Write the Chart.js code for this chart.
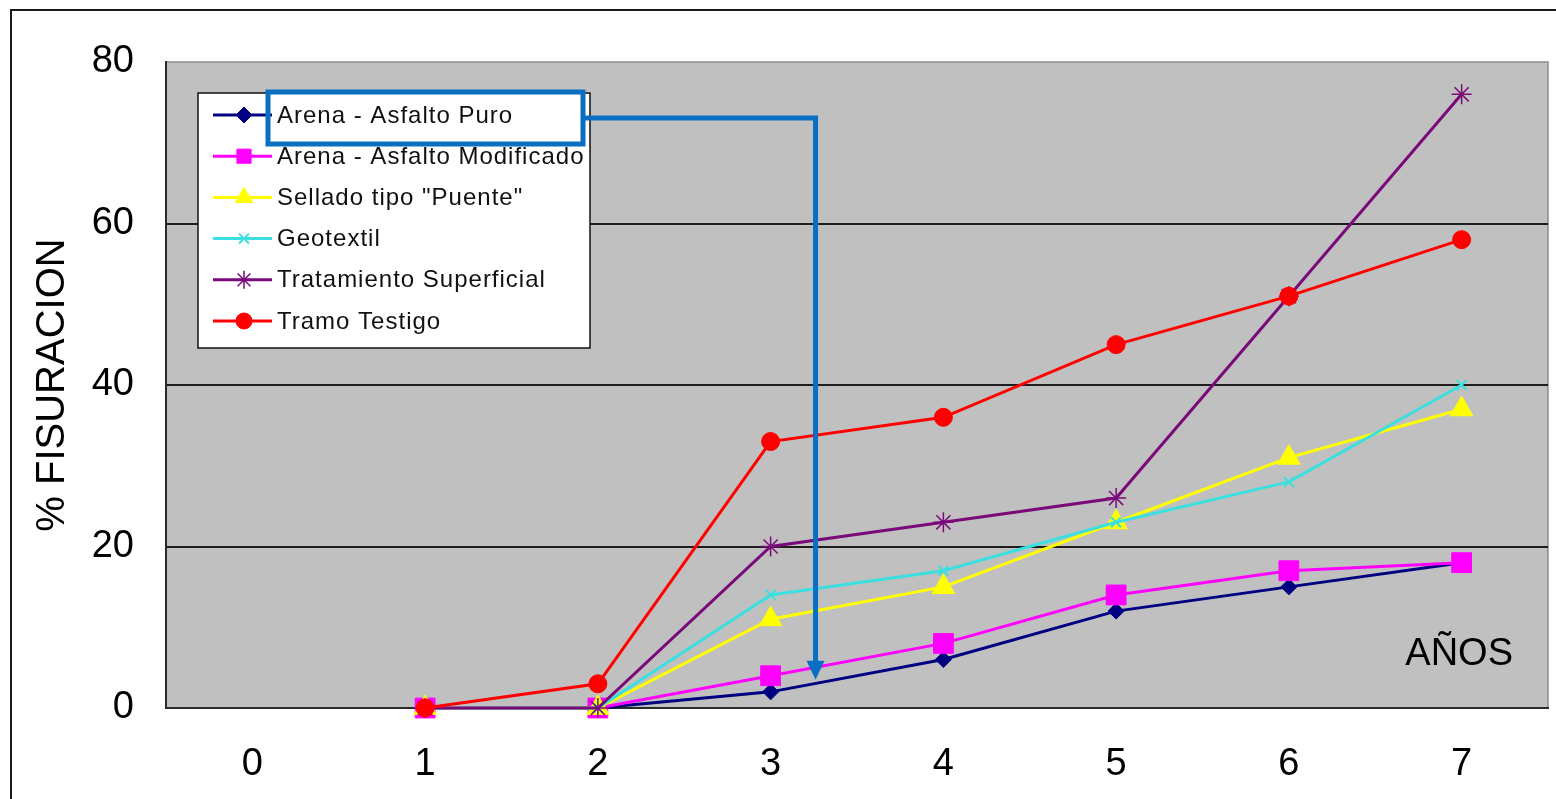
<!DOCTYPE html>
<html>
<head>
<meta charset="utf-8">
<script src="https://cdn.jsdelivr.net/npm/chart.js@4/dist/chart.umd.min.js"></script>
<style>
  html, body { margin: 0; padding: 0; background: #fff; }
  #wrap { width: 1556px; height: 799px; position: relative; }
</style>
</head>
<body>
<div id="wrap"><canvas id="c" width="1556" height="799"></canvas></div>
<script>
// Years after construction (category axis)
const years = ['0', '1', '2', '3', '4', '5', '6', '7'];

// % of cracked surface per treatment, by year
const arenaPuro              = [null, 0, 0, 2, 6, 12, 15, 18];
const arenaModificado        = [null, 0, 0, 4, 8, 14, 17, 18];
const selladoPuente          = [null, 0, 0, 11, 15, 23, 31, 37];
const geotextil              = [null, 0, 0, 14, 17, 23, 28, 40];
const tratamientoSuperficial = [null, 0, 0, 20, 23, 26, 51, 76];
const tramoTestigo           = [null, 0, 3, 33, 36, 45, 51, 58];

const seriesNames = [
  'Arena - Asfalto Puro',
  'Arena - Asfalto Modificado',
  'Sellado tipo "Puente"',
  'Geotextil',
  'Tratamiento Superficial',
  'Tramo Testigo'
];

const yTicks = [0, 20, 40, 60, 80];

const FONT = '"Liberation Sans", Arial, sans-serif';

const styles = [
  { color: '#000080', point: 'rectRot',  radius: 8,  bw: 1,   legendRadius: 8 },
  { color: '#FF00FF', point: 'rect',     radius: 14, bw: 1,   legendRadius: 10 },
  { color: '#FFFF00', point: 'triangle', radius: 13, bw: 1,   legendRadius: 10 },
  { color: '#3CDFDF', point: 'crossRot', radius: 7,  bw: 2,   legendRadius: 7 },
  { color: '#7A0A7A', point: 'star',     radius: 10, bw: 1.5, legendRadius: 9 },
  { color: '#FF0000', point: 'circle',   radius: 9,  bw: 1,   legendRadius: 8 }
];

const seriesValues = [arenaPuro, arenaModificado, selladoPuente, geotextil, tratamientoSuperficial, tramoTestigo];

const datasets = seriesValues.map((vals, i) => ({
  label: seriesNames[i],
  data: vals,
  borderColor: styles[i].color,
  backgroundColor: styles[i].color,
  pointBackgroundColor: styles[i].color,
  pointBorderColor: styles[i].color,
  pointStyle: styles[i].point,
  pointRadius: styles[i].radius,
  pointHoverRadius: styles[i].radius,
  pointBorderWidth: styles[i].bw,
  legendRadius: styles[i].legendRadius,
  borderWidth: 3,
  tension: 0,
  fill: false,
  spanGaps: false,
  clip: false,
  order: seriesValues.length - 1 - i
}));

// Background, outer frame and plot-area borders
const framePlugin = {
  id: 'frame',
  beforeDraw(chart) {
    const { ctx, chartArea: ca } = chart;
    ctx.save();
    ctx.fillStyle = '#fff';
    ctx.fillRect(0, 0, chart.width, chart.height);
    ctx.strokeStyle = '#1a1a1a';
    ctx.lineWidth = 2;
    ctx.strokeRect(11, 10, chart.width + 20, chart.height + 20);
    ctx.fillStyle = '#C0C0C0';
    ctx.fillRect(ca.left, ca.top, ca.right - ca.left, ca.bottom - ca.top);
    ctx.strokeStyle = '#8c8c8c';
    ctx.lineWidth = 1.5;
    ctx.beginPath();
    ctx.moveTo(ca.left, ca.top);
    ctx.lineTo(ca.right, ca.top);
    ctx.lineTo(ca.right, ca.bottom);
    ctx.stroke();
    ctx.restore();
  }
};

// Legend box inside the plot, plus the highlighted entry with its arrow
const legendPlugin = {
  id: 'insideLegend',
  afterDatasetsDraw(chart, args, opts) {
    const { ctx, chartArea: ca, scales } = chart;
    const bx = ca.left + 32, by = ca.top + 31, bw = 392, bh = 255;
    const rowGap = 41.2;
    ctx.save();
    ctx.fillStyle = '#fff';
    ctx.fillRect(bx, by, bw, bh);
    ctx.strokeStyle = '#111';
    ctx.lineWidth = 1.5;
    ctx.strokeRect(bx, by, bw, bh);

    chart.data.datasets.forEach((ds, i) => {
      const cy = by + 22 + i * rowGap;
      ctx.strokeStyle = ds.borderColor;
      ctx.lineWidth = 3;
      ctx.beginPath();
      ctx.moveTo(bx + 15, cy);
      ctx.lineTo(bx + 74, cy);
      ctx.stroke();
      ctx.fillStyle = ds.pointBackgroundColor;
      ctx.strokeStyle = ds.pointBorderColor;
      ctx.lineWidth = ds.pointBorderWidth;
      Chart.helpers.drawPoint(ctx, { pointStyle: ds.pointStyle, radius: ds.legendRadius, borderWidth: ds.pointBorderWidth, rotation: 0 }, bx + 46, cy);
      ctx.fillStyle = '#111';
      ctx.font = '24px ' + FONT;
      ctx.letterSpacing = '1px';
      ctx.textAlign = 'left';
      ctx.textBaseline = 'middle';
      ctx.fillText(ds.label, bx + 79, cy + 1);
      ctx.letterSpacing = '0px';
    });

    // Highlight box around the first entry, connector and arrow
    const hl = { left: bx + 70, top: by - 1, right: bx + 385, bottom: by + 51 };
    ctx.strokeStyle = opts.color;
    ctx.fillStyle = opts.color;
    ctx.lineWidth = 5;
    ctx.strokeRect(hl.left, hl.top, hl.right - hl.left, hl.bottom - hl.top);
    const tipX = scales.x.getPixelForValue(opts.targetYear);
    const tipY = scales.y.getPixelForValue(opts.targetValue);
    const midY = (hl.top + hl.bottom) / 2;
    const headLen = 19, headHalf = 9;
    ctx.lineJoin = 'miter';
    ctx.beginPath();
    ctx.moveTo(hl.right + 2, midY);
    ctx.lineTo(tipX, midY);
    ctx.lineTo(tipX, tipY - headLen + 2);
    ctx.stroke();
    ctx.beginPath();
    ctx.moveTo(tipX, tipY);
    ctx.lineTo(tipX - headHalf, tipY - headLen);
    ctx.lineTo(tipX + headHalf, tipY - headLen);
    ctx.closePath();
    ctx.fill();

    // Axis caption inside the plot
    ctx.fillStyle = '#000';
    ctx.font = '38px ' + FONT;
    ctx.textAlign = 'right';
    ctx.textBaseline = 'middle';
    ctx.fillText('AÑOS', ca.right - 35, ca.bottom - 53);
    ctx.restore();
  }
};

new Chart(document.getElementById('c'), {
  type: 'line',
  data: { labels: years, datasets },
  plugins: [framePlugin, legendPlugin],
  options: {
    responsive: false,
    animation: false,
    devicePixelRatio: 1,
    layout: { autoPadding: false, padding: { left: 0, top: 62, right: 8, bottom: 0 } },
    plugins: {
      legend: { display: false },
      tooltip: { enabled: false },
      insideLegend: { color: '#0A6FC2', targetYear: 3.26, targetValue: 3.5 }
    },
    scales: {
      x: {
        type: 'category',
        offset: true,
        grid: { display: false, drawTicks: false },
        border: { display: true, color: '#2a2a2a', width: 2 },
        ticks: {
          color: '#000',
          font: { family: FONT, size: 38 },
          padding: 34,
          maxRotation: 0,
          autoSkip: false
        },
        afterFit(scale) { scale.height = 91; }
      },
      y: {
        min: 0,
        max: 80,
        afterBuildTicks(scale) { scale.ticks = yTicks.map(v => ({ value: v })); },
        grid: {
          drawTicks: false,
          lineWidth: 2,
          color: (c) => (c.tick && (c.tick.value === 0 || c.tick.value === 80)) ? 'rgba(0,0,0,0)' : '#1e1e1e'
        },
        border: { display: true, color: '#2a2a2a', width: 2 },
        ticks: {
          color: '#000',
          font: { family: FONT, size: 38 },
          padding: 32
        },
        title: {
          display: true,
          text: '% FISURACION',
          color: '#000',
          font: { family: FONT, size: 40 },
          padding: { top: 29, bottom: 0 }
        },
        afterFit(scale) { scale.width = 166; }
      }
    }
  }
});
</script>
</body>
</html>
